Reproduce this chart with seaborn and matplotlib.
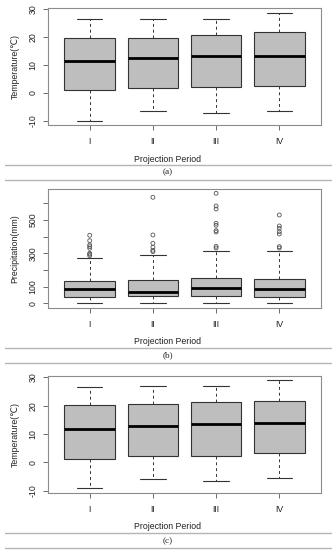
import numpy as np
import pandas as pd
import seaborn as sns
import matplotlib.pyplot as plt
from matplotlib.lines import Line2D

periods = ['I', 'II', 'III', 'IV']

# five-number summaries (low whisker, Q1, median, Q3, high whisker)
temp_a_low = [-9.9, -6.4, -7.1, -6.5]
temp_a_q1 = [0.9, 1.9, 2.1, 2.5]
temp_a_med = [11.4, 12.4, 13.2, 13.2]
temp_a_q3 = [19.8, 19.8, 20.9, 21.7]
temp_a_high = [26.4, 26.5, 26.5, 28.8]

prec_low = [3, 3, 3, 3]
prec_q1 = [40, 42, 44, 36]
prec_med = [86, 70, 92, 84]
prec_q3 = [134, 142, 152, 144]
prec_high = [272, 292, 314, 314]
prec_out_I = [286, 294, 300, 330, 340, 350, 376, 408]
prec_out_II = [310, 318, 336, 360, 410, 636]
prec_out_III = [332, 342, 428, 436, 468, 480, 566, 584, 660]
prec_out_IV = [332, 340, 416, 430, 450, 464, 530]

temp_c_low = [-9.2, -6.0, -6.7, -5.5]
temp_c_q1 = [1.1, 2.4, 2.4, 3.2]
temp_c_med = [11.9, 12.8, 13.4, 13.8]
temp_c_q3 = [20.1, 20.5, 21.2, 21.8]
temp_c_high = [26.7, 26.8, 26.8, 28.9]

prec_ticks = [0, 100, 200, 300, 400, 500, 600]
prec_ticklabels = ['0', '100', '', '300', '', '500', '']
temp_ticks = [-10, 0, 10, 20, 30]


def summary_frame(low, q1, med, q3, high):
    rows = []
    for i, p in enumerate(periods):
        for v in (low[i], q1[i], med[i], q3[i], high[i]):
            rows.append({'period': p, 'value': v})
    return pd.DataFrame(rows)


sns.set_theme(style='white')
plt.rcParams['font.family'] = ['Liberation Sans', 'DejaVu Sans']

W, H = 336, 550
fig = plt.figure(figsize=(W / 100, H / 100), dpi=100)
frame_col = '#8c8c8c'
fs = 6.3
txt_col = '#222222'


def draw_panel(top, bottom, df, ylabel, ylim, ticks, ticklabels, xlab_y, lines_y, tag, tag_y, outliers=None):
    ax = fig.add_axes([48 / W, 1 - bottom / H, 273 / W, (bottom - top) / H])
    sns.boxplot(data=df, x='period', y='value', order=periods, ax=ax,
                whis=(0, 100), width=0.8, color='#bebebe', linecolor='#333333',
                linewidth=0.8, showfliers=False,
                medianprops=dict(color='black', linewidth=2.0),
                whiskerprops=dict(linestyle=(0, (3, 3)), linewidth=0.7),
                capprops=dict(linewidth=0.8))
    if outliers is not None:
        n0 = len(ax.collections)
        sns.stripplot(data=outliers, x='period', y='value', order=periods, ax=ax,
                      jitter=False, color='#555555', size=2.8, marker='o')
        for coll in ax.collections[n0:]:
            coll.set_facecolor('none')
            coll.set_edgecolor('#555555')
            coll.set_linewidth(0.6)
    ax.set_xlim(-0.66, 3.66)
    ax.set_ylim(*ylim)
    ax.set_yticks(ticks)
    ax.set_yticklabels(ticklabels)
    for lab in ax.get_yticklabels():
        lab.set_rotation(90)
        lab.set_va('center')
    ax.tick_params(axis='both', length=3.6, width=0.6, color='#555555',
                   labelsize=fs, labelcolor=txt_col, pad=4, direction='out',
                   left=True, bottom=True)
    ax.tick_params(axis='x', pad=5)
    for s in ax.spines.values():
        s.set_color(frame_col)
        s.set_linewidth(0.8)
    ax.set_xlabel('Projection Period', fontsize=fs, color=txt_col)
    ax.xaxis.set_label_coords(0.5, 1 - xlab_y / H, transform=fig.transFigure)
    ax.xaxis.label.set_va('center')
    ax.set_ylabel(ylabel, fontsize=fs, color=txt_col)
    ax.yaxis.set_label_coords(15 / W, 1 - (top + bottom) / 2 / H, transform=fig.transFigure)
    ax.yaxis.label.set_va('center')
    for ly in lines_y:
        fig.add_artist(Line2D([5 / W, 331 / W], [1 - ly / H, 1 - ly / H],
                              transform=fig.transFigure, color='#b4b4b4', linewidth=1.0))
    fig.text(0.5, 1 - tag_y / H, tag, ha='center', va='center', fontsize=6.6,
             color=txt_col, family=['Liberation Serif', 'DejaVu Serif'])
    return ax


df_a = summary_frame(temp_a_low, temp_a_q1, temp_a_med, temp_a_q3, temp_a_high)
df_b = summary_frame(prec_low, prec_q1, prec_med, prec_q3, prec_high)
df_c = summary_frame(temp_c_low, temp_c_q1, temp_c_med, temp_c_q3, temp_c_high)

out_rows = []
for p, vals in zip(periods, [prec_out_I, prec_out_II, prec_out_III, prec_out_IV]):
    for v in vals:
        out_rows.append({'period': p, 'value': v})
df_out = pd.DataFrame(out_rows)

draw_panel(8, 125, df_a, 'Temperature(℃)', (-11.5, 30.45), temp_ticks,
           [str(t) for t in temp_ticks], 159.3, [164.5, 179.5], '(a)', 172)
draw_panel(189.3, 308.3, df_b, 'Precipitation(mm)', (-30, 684), prec_ticks,
           prec_ticklabels, 341.7, [348, 362.5], '(b)', 355, outliers=df_out)
draw_panel(375.7, 493.3, df_c, 'Temperature(℃)', (-10.9, 30.55), temp_ticks,
           [str(t) for t in temp_ticks], 526.7, [533.3, 547.5], '(c)', 540.7)

fig.savefig('out.png', dpi=100, facecolor='white')
